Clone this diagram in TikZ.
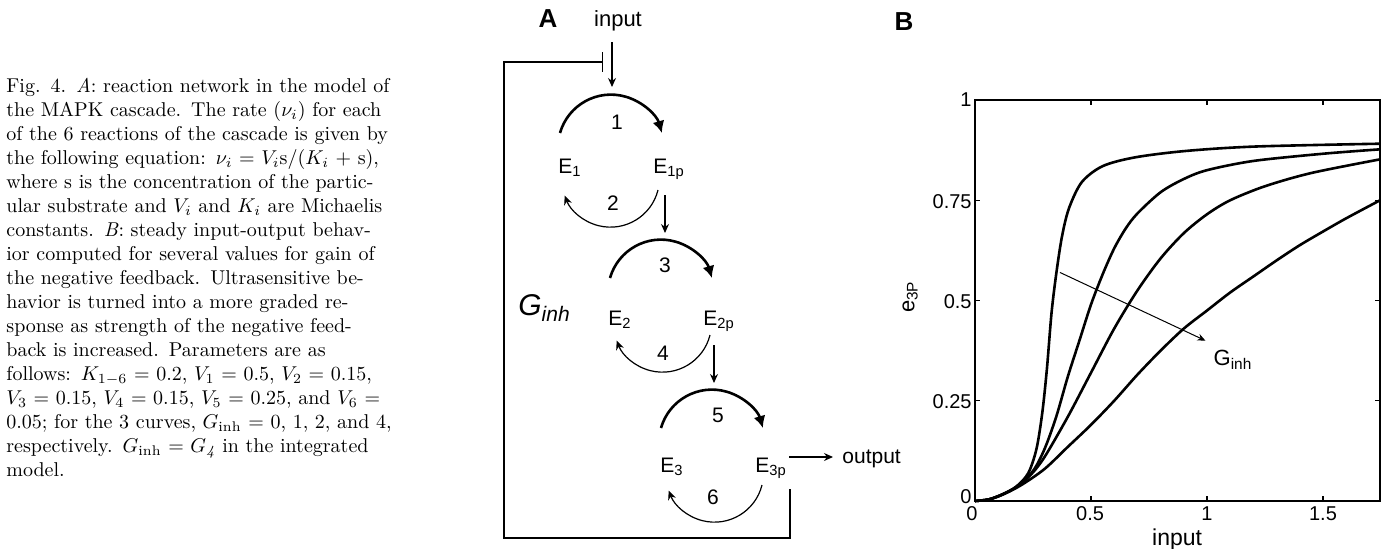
\documentclass[tikz,border=0pt]{standalone}
\usepackage{fontspec}
\setsansfont{Liberation Sans}
\usetikzlibrary{arrows.meta}
\newcommand\capline[1]{\makebox[204pt][s]{#1}}
\begin{document}
\begin{tikzpicture}[x=0.5pt,y=0.5pt,
  lab/.style={font=\sffamily\fontsize{10.5}{12}\selectfont, inner sep=0pt},
  ename/.style={lab, anchor=base west},
  panel/.style={font=\sffamily\bfseries\fontsize{13}{14}\selectfont, inner sep=0pt},
  thickarc/.style={line width=1.3pt, -{Latex[length=6pt,width=6pt]}},
  thinarc/.style={line width=0.6pt, -{Stealth[length=4.5pt,width=4pt]}},
  sarrow/.style={line width=0.6pt, -{Stealth[length=4.5pt,width=4pt]}},
  fb/.style={line width=0.7pt},
  tick/.style={font=\sffamily\fontsize{10}{12}\selectfont, inner sep=0pt},
  curve/.style={line width=1.3pt, line join=round},
  axis/.style={line width=0.6pt}
]
\useasboundingbox (0,0) rectangle (1382,548);

% caption
\node[anchor=north west, inner sep=0pt, text width=204pt, align=left,
      font=\fontsize{10}{12}\selectfont] (cap) at (6,470) {%
\capline{Fig. 4. \textit{A}: reaction network in the model of}\\
\capline{the MAPK cascade. The rate ($\nu_i$) for each}\\
\capline{of the 6 reactions of the cascade is given by}\\
\capline{the following equation: $\nu_i$ = $V_i$s/($K_i$ + s),}\\
\capline{where s is the concentration of the partic-}\\
\capline{ular substrate and $V_i$ and $K_i$ are Michaelis}\\
\capline{constants. \textit{B}: steady input-output behav-}\\
\capline{ior computed for several values for gain of}\\
\capline{the negative feedback. Ultrasensitive be-}\\
\capline{havior is turned into a more graded re-}\\
\capline{sponse as strength of the negative feed-}\\
\capline{back is increased. Parameters are as}\\
\capline{follows: $K_{1-6}$ = 0.2, $V_1$ = 0.5, $V_2$ = 0.15,}\\
\capline{$V_3$ = 0.15, $V_4$ = 0.15, $V_5$ = 0.25, and $V_6$ =}\\
\capline{0.05; for the 3 curves, $G_{\mathrm{inh}}$ = 0, 1, 2, and 4,}\\
\capline{respectively. $G_{\mathrm{inh}}$ = $G_{\mathit{4}}$ in the integrated}\\
model.};

% panel A
\node[panel] (pA) at (548,529) {A};
\node[lab, font=\sffamily\fontsize{11}{12}\selectfont] (input) at (618,527) {input};
\coordinate (inA) at (612,506);
\coordinate (inB) at (612,461);
\draw[sarrow] (inA) -- (inB);

\node[ename] (E1) at (558,375) {E\textsubscript{1}};
\node[ename] (E1p) at (653,375) {E\textsubscript{1p}};
\node[ename] (E2) at (608,223) {E\textsubscript{2}};
\node[ename] (E2p) at (703,223) {E\textsubscript{2p}};
\node[ename] (E3) at (660,76) {E\textsubscript{3}};
\node[ename] (E3p) at (755,76) {E\textsubscript{3p}};

\node[lab] (r1) at (617,426) {1};
\node[lab] (r2) at (613,345) {2};
\node[lab] (r3) at (665,283) {3};
\node[lab] (r4) at (663,195) {4};
\node[lab] (r5) at (718,133) {5};
\node[lab] (r6) at (713,51) {6};

\coordinate (u1) at (560,415);
\coordinate (l1) at (658,358);
\coordinate (u2) at (610,270);
\coordinate (l2) at (710,213);
\coordinate (u3) at (661,120);
\coordinate (l3) at (762,63);
\draw[thickarc] (u1) arc[start angle=164, end angle=16, radius=53];
\draw[thinarc] (l1) arc[start angle=-14, end angle=-159, radius=49];
\draw[thickarc] (u2) arc[start angle=164, end angle=16, radius=53];
\draw[thinarc] (l2) arc[start angle=-14, end angle=-159, radius=49];
\draw[thickarc] (u3) arc[start angle=164, end angle=16, radius=53];
\draw[thinarc] (l3) arc[start angle=-14, end angle=-159, radius=49];

\coordinate (d1a) at (665,353);
\coordinate (d1b) at (665,315);
\coordinate (d2a) at (714,203);
\coordinate (d2b) at (714,165);
\draw[sarrow] (d1a) -- (d1b);
\draw[sarrow] (d2a) -- (d2b);

\coordinate (oa) at (789,91);
\coordinate (ob) at (833,91);
\draw[sarrow] (oa) -- (ob);
\node[lab, anchor=base west] (out) at (842,85) {output};

\coordinate (fb1) at (790,59);
\coordinate (fb3) at (504,10);
\coordinate (fb5) at (603,486);
\draw[fb, -{Bar[width=10pt]}] (fb1) |- (fb3) |- (fb5);
\node[font=\sffamily\itshape\fontsize{15}{16}\selectfont, inner sep=0pt, anchor=west] (Ginh) at (518,240) {G\textsubscript{inh}};

% panel B
\node[panel] (pB) at (904,526) {B};
\begin{scope}[xshift=487.5pt, yshift=23.5pt, x=116pt, y=200.5pt]
  \draw[axis] (0,0) rectangle (1.746,1);
  \foreach \t in {0.5,1,1.5} {
    \draw[axis] (\t,0) -- (\t,0.012);
    \draw[axis] (\t,1) -- (\t,0.988);
  }
  \foreach \t in {0.25,0.5,0.75} {
    \draw[axis] (0,\t) -- (0.02,\t);
    \draw[axis] (1.746,\t) -- (1.726,\t);
  }
  \node[tick] (x0) at (-0.013,-0.032) {0};
  \node[tick] (x05) at (0.496,-0.032) {0.5};
  \node[tick] (x1) at (1,-0.032) {1};
  \node[tick] (x15) at (1.5,-0.032) {1.5};
  \node[tick, anchor=east] (y0) at (-0.013,0.01) {0};
  \node[tick, anchor=east] (y025) at (-0.013,0.247) {0.25};
  \node[tick, anchor=east] (y05) at (-0.013,0.496) {0.5};
  \node[tick, anchor=east] (y075) at (-0.013,0.746) {0.75};
  \node[tick, anchor=east] (y1) at (-0.013,1) {1};
  \node[font=\sffamily\fontsize{11.5}{12}\selectfont, inner sep=0pt] (xl) at (0.871,-0.097) {input};
  \node[font=\sffamily\fontsize{11}{12}\selectfont, inner sep=0pt, rotate=90] (yl) at (-0.28,0.509) {e\textsubscript{3P}};

  \draw[curve] plot[smooth, tension=0.5] coordinates {(0,0) (0.06,0.004) (0.12,0.017) (0.18,0.037) (0.23,0.07) (0.265,0.13) (0.29,0.22) (0.31,0.33) (0.33,0.47) (0.351,0.57) (0.375,0.66) (0.405,0.73) (0.46,0.795) (0.55,0.835) (0.69,0.857) (0.91,0.873) (1.21,0.884) (1.746,0.891)};
  \draw[curve] plot[smooth, tension=0.5] coordinates {(0,0) (0.06,0.004) (0.12,0.017) (0.18,0.036) (0.25,0.075) (0.3,0.13) (0.35,0.21) (0.4,0.31) (0.45,0.40) (0.5,0.49) (0.55,0.565) (0.6,0.63) (0.65,0.68) (0.7,0.717) (0.8,0.77) (0.9,0.803) (1.0,0.825) (1.2,0.848) (1.5,0.866) (1.746,0.877)};
  \draw[curve] plot[smooth, tension=0.5] coordinates {(0,0) (0.06,0.004) (0.12,0.017) (0.18,0.035) (0.24,0.065) (0.3,0.11) (0.4,0.21) (0.5,0.32) (0.6,0.43) (0.7,0.525) (0.8,0.605) (0.9,0.668) (1.0,0.715) (1.1,0.75) (1.25,0.785) (1.45,0.818) (1.746,0.852)};
  \draw[curve] plot[smooth, tension=0.5] coordinates {(0,0) (0.06,0.004) (0.12,0.016) (0.2,0.04) (0.3,0.08) (0.4,0.135) (0.5,0.19) (0.6,0.25) (0.7,0.315) (0.8,0.375) (0.9,0.43) (1.0,0.475) (1.1,0.52) (1.2,0.56) (1.3,0.6) (1.4,0.638) (1.5,0.672) (1.6,0.705) (1.746,0.75)};

  \coordinate (ga) at (0.366,0.57);
  \coordinate (gb) at (0.993,0.40);
  \draw[line width=0.5pt, -{Stealth[length=4pt,width=3.5pt]}] (ga) -- (gb);
  \node[font=\sffamily\fontsize{11}{12}\selectfont, inner sep=0pt] (Gl) at (1.112,0.352) {G\textsubscript{inh}};
\end{scope}
\end{tikzpicture}
\end{document}
